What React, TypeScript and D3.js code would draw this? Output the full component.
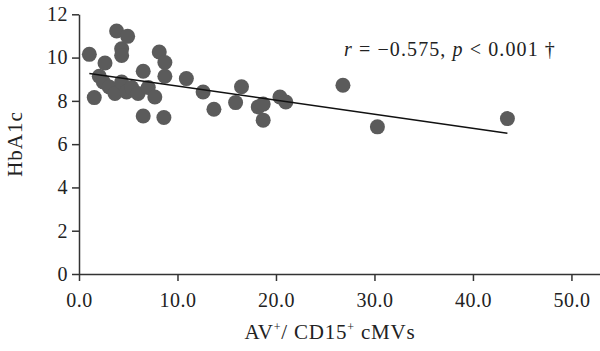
import { axisBottom, axisLeft, scaleLinear, select } from "d3";
import { useEffect, useRef } from "react";

// AV+/CD15+ cMVs vs HbA1c
const cmvs = [
  1.05, 1.55, 2.06, 2.47, 2.64, 3.07, 3.65, 3.82, 4.33, 4.33, 4.33, 4.83,
  4.94, 5.34, 6.0, 6.52, 6.52, 7.03, 7.7, 8.15, 8.62, 8.72, 8.72, 10.9, 12.6,
  13.7, 15.9, 16.5, 18.2, 18.7, 18.7, 20.4, 21.0, 26.8, 30.3, 43.5,
];
const hba1c = [
  10.15, 8.15, 9.14, 8.87, 9.75, 8.64, 8.34, 11.23, 10.41, 10.1, 8.87, 8.41,
  10.98, 8.62, 8.34, 9.37, 7.3, 8.62, 8.18, 10.26, 7.23, 9.77, 9.14, 9.03,
  8.41, 7.61, 7.92, 8.65, 7.72, 7.85, 7.11, 8.18, 7.95, 8.72, 6.8, 7.18,
];
const xTicks = [0, 10, 20, 30, 40, 50];
const yTicks = [0, 2, 4, 6, 8, 10, 12];

// fitted line as drawn in the figure
const fitIntercept = 9.33;
const fitSlope = -0.065;

const FONT = "'Liberation Serif', 'DejaVu Serif', serif";

export default function App() {
  const svgRef = useRef<SVGSVGElement>(null);
  const width = 600;
  const height = 351;

  useEffect(() => {
    const svg = select(svgRef.current);
    svg.selectAll("*").remove();

    const x = scaleLinear().domain([0, 52.9]).range([79, 600]);
    const y = scaleLinear().domain([0, 12]).range([274, 14.3]);

    const xAxis = svg
      .append("g")
      .attr("transform", `translate(0,${y(0)})`)
      .call(
        axisBottom(x)
          .tickValues(xTicks)
          .tickFormat((d) => (d as number).toFixed(1))
          .tickSize(7)
          .tickSizeOuter(0)
          .tickPadding(12)
      );
    const yAxis = svg
      .append("g")
      .attr("transform", `translate(${x(0)},0)`)
      .call(axisLeft(y).tickValues(yTicks).tickSize(7).tickSizeOuter(0).tickPadding(4));

    [xAxis, yAxis].forEach((g) => {
      g.selectAll("path, line").attr("stroke", "#333").attr("stroke-width", 1.5);
      g.selectAll("text")
        .attr("fill", "#222")
        .style("font-family", FONT)
        .style("font-size", "20px")
        .style("letter-spacing", "0.5px");
    });

    svg
      .selectAll(".dot")
      .data(cmvs)
      .join("circle")
      .attr("class", "dot")
      .attr("cx", (d) => x(d))
      .attr("cy", (_, i) => y(hba1c[i]))
      .attr("r", 7.5)
      .attr("fill", "#5b5b5b");

    const x0 = Math.min(...cmvs);
    const x1 = Math.max(...cmvs);
    svg
      .append("line")
      .attr("x1", x(x0))
      .attr("y1", y(fitIntercept + fitSlope * x0))
      .attr("x2", x(x1))
      .attr("y2", y(fitIntercept + fitSlope * x1))
      .attr("stroke", "#111")
      .attr("stroke-width", 1.5);

    const note = svg
      .append("text")
      .attr("x", 450)
      .attr("y", 56)
      .attr("text-anchor", "middle")
      .style("font-family", FONT)
      .style("font-size", "20px")
      .style("letter-spacing", "1.1px")
      .attr("fill", "#222");
    note.append("tspan").attr("font-style", "italic").text("r");
    note.append("tspan").text(" = \u22120.575, ");
    note.append("tspan").attr("font-style", "italic").text("p");
    note.append("tspan").text(" < 0.001 \u2020");

    const xTitle = svg
      .append("text")
      .attr("x", 330)
      .attr("y", 339)
      .attr("text-anchor", "middle")
      .style("font-family", FONT)
      .style("font-size", "21px")
      .style("letter-spacing", "0.8px")
      .attr("fill", "#222");
    xTitle.append("tspan").text("AV");
    xTitle.append("tspan").attr("dy", -8).style("font-size", "12px").text("+");
    xTitle.append("tspan").attr("dy", 8).text("/ CD15");
    xTitle.append("tspan").attr("dy", -8).style("font-size", "12px").text("+");
    xTitle.append("tspan").attr("dy", 8).text(" cMVs");

    svg
      .append("text")
      .attr("transform", "translate(22,144) rotate(-90)")
      .attr("text-anchor", "middle")
      .style("font-family", FONT)
      .style("font-size", "21px")
      .style("letter-spacing", "1px")
      .attr("fill", "#222")
      .text("HbA1c");
  }, []);

  return (
    <svg
      ref={svgRef}
      width={width}
      height={height}
      style={{ position: "absolute", left: 0, top: 0, background: "#fff" }}
    />
  );
}
